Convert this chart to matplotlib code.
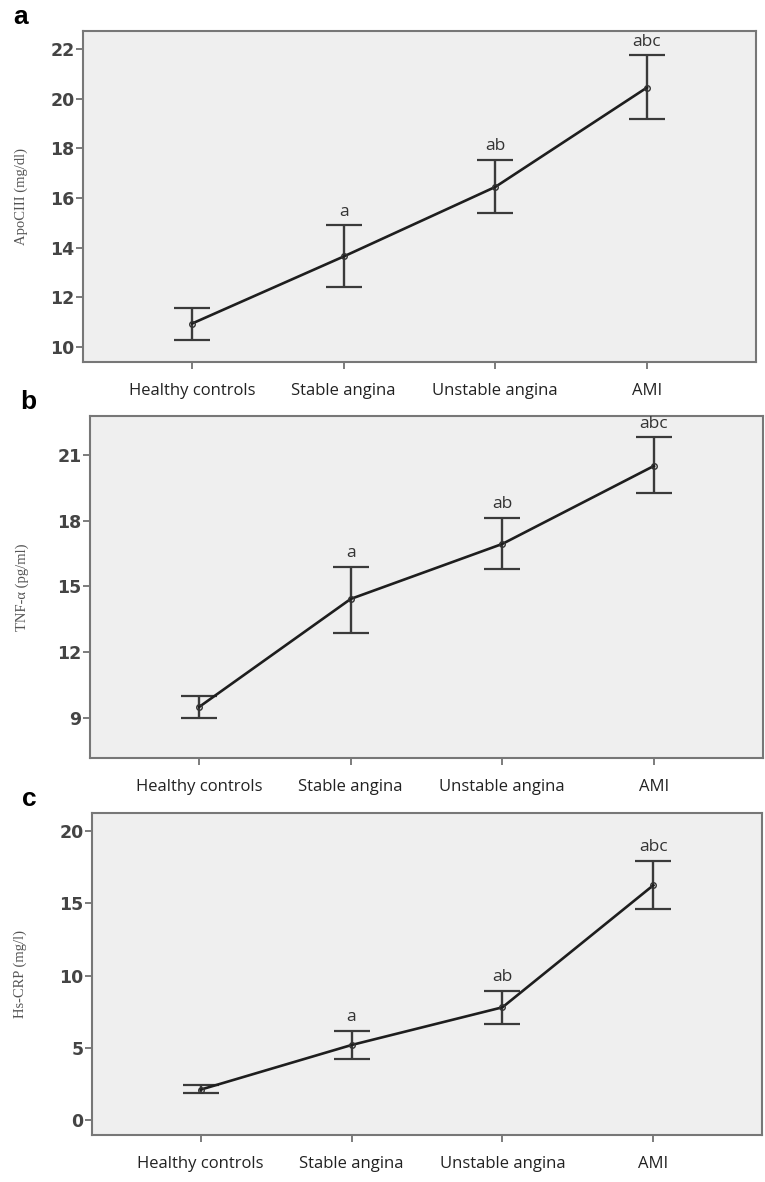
import numpy as np
import matplotlib
matplotlib.use("Agg")
import matplotlib.pyplot as plt

# groups on the x axis
groups = ["Healthy controls", "Stable angina", "Unstable angina", "AMI"]
letters = ["", "a", "ab", "abc"]

# panel a: ApoCIII (mg/dl)
apo_mean = [10.95, 13.65, 16.45, 20.45]
apo_low = [10.27, 12.42, 15.40, 19.20]
apo_high = [11.56, 14.90, 17.55, 21.75]

# panel b: TNF-alpha (pg/ml)
tnf_mean = [9.50, 14.43, 16.94, 20.50]
tnf_low = [9.00, 12.88, 15.80, 19.25]
tnf_high = [10.00, 15.89, 18.13, 21.80]

# panel c: Hs-CRP (mg/l)
crp_mean = [2.10, 5.19, 7.80, 16.25]
crp_low = [1.85, 4.20, 6.64, 14.60]
crp_high = [2.40, 6.16, 8.93, 17.95]

panels = [
    dict(tag="a", ylabel="ApoCIII (mg/dl)", mean=apo_mean, low=apo_low, high=apo_high,
         yticks=[10, 12, 14, 16, 18, 20, 22], ylim=(9.4, 22.73),
         rect=[83 / 765, 1 - 362 / 1182, 673 / 765, 331 / 1182], lab_x=28),
    dict(tag="b", ylabel="TNF-\u03b1 (pg/ml)", mean=tnf_mean, low=tnf_low, high=tnf_high,
         yticks=[9, 12, 15, 18, 21], ylim=(7.17, 22.78),
         rect=[90 / 765, 1 - 758 / 1182, 673 / 765, 342 / 1182], lab_x=29),
    dict(tag="c", ylabel="Hs-CRP (mg/l)", mean=crp_mean, low=crp_low, high=crp_high,
         yticks=[0, 5, 10, 15, 20], ylim=(-1.04, 21.25),
         rect=[92 / 765, 1 - 1135 / 1182, 670 / 765, 322 / 1182], lab_x=27),
]

fig = plt.figure(figsize=(7.65, 11.82), dpi=100)
x = np.arange(len(groups))

for p in panels:
    ax = fig.add_axes(p["rect"])
    ax.set_facecolor("#efefef")
    mean = np.array(p["mean"])
    low = np.array(p["low"])
    high = np.array(p["high"])

    # error bars (CI) and the mean line
    ax.errorbar(x, mean, yerr=[mean - low, high - mean], fmt="none",
                ecolor="#3a3a3a", elinewidth=1.7, capsize=13, capthick=1.6, zorder=2)
    ax.plot(x, mean, color="#1e1e1e", linewidth=1.9, marker="o", markersize=4,
            markerfacecolor="none", markeredgecolor="#333333", markeredgewidth=1.0, zorder=3)

    # significance letters above the upper caps
    for xi, hi, lab in zip(x, high, letters):
        if lab:
            ax.annotate(lab, (xi, hi), xytext=(0, 4), textcoords="offset points",
                        ha="center", va="bottom", fontsize=12.5, color="#333333",
                        family="Open Sans")

    ax.set_xlim(-0.72, 3.72)
    ax.set_ylim(*p["ylim"])
    ax.set_xticks(x)
    ax.set_xticklabels(groups, family="Open Sans", fontsize=12, color="#222222")
    ax.set_yticks(p["yticks"])
    ax.set_yticklabels([str(t) for t in p["yticks"]], family="DejaVu Sans",
                       fontweight="bold", fontsize=12.5, color="#444444")
    ax.tick_params(axis="x", length=5, width=1.2, color="#666666", pad=10)
    ax.tick_params(axis="y", length=5, width=1.2, color="#666666", pad=1)
    for s in ax.spines.values():
        s.set_color("#777777")
        s.set_linewidth(1.5)

    ax.set_ylabel(p["ylabel"], family="Liberation Serif", fontsize=10.5,
                  color="#555555")
    ax.yaxis.set_label_coords((p["lab_x"] - p["rect"][0] * 765) / (p["rect"][2] * 765), 0.5)

    # panel letter
    bb = ax.get_position()
    fig.text(bb.x0 - 70 / 765, bb.y1 + 2 / 1182, p["tag"], fontsize=19,
             fontweight="bold", family="Liberation Sans", ha="left", va="bottom")

fig.savefig("out.png", dpi=100)
